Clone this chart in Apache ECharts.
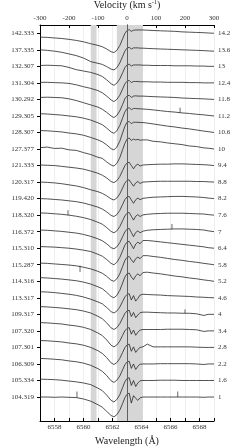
<!DOCTYPE html>
<html><head><meta charset="utf-8">
<script src="https://cdn.jsdelivr.net/npm/echarts@6/dist/echarts.min.js"></script>
<style>html,body{margin:0;padding:0;background:#fff;overflow:hidden}#c{width:240px;height:448px}</style>
</head><body><div id="c"></div>
<script>
// Wavelength sample points (Å)
const wavelengths = [6557.0,6557.5,6558.0,6558.5,6559.0,6559.5,6560.0,6560.5,6561.0,6561.3,6561.6,6561.9,6562.1,6562.3,6562.5,6562.7,6562.85,6563.0,6563.15,6563.3,6563.45,6563.6,6563.75,6563.9,6564.1,6564.4,6564.8,6565.3,6565.8,6566.3,6566.8,6567.3,6567.8,6568.3,6568.6,6569.0];
// Epoch labels (left axis), bottom to top
const dateLabels = ['104.319','105.334','106.309','107.301','107.320','109.317','113.317','114.316','115.287','115.310','116.372','118.320','119.420','120.317','121.333','127.377','128.307','129.305','130.292','131.304','132.307','137.335','142.333'];
// Relative-flux tick values (right axis), bottom to top
const fluxTicks = [1,1.6,2.2,2.8,3.4,4,4.6,5.2,5.8,6.4,7,7.6,8.2,8.8,9.4,10,10.6,11.2,11.8,12.4,13,13.6,14.2];
// Vertical offsets applied to each spectrum, bottom to top
const offsets = [0,0.6,1.2,1.8,2.4,3.0,3.6,4.2,4.8,5.4,6.0,6.6,7.2,7.8,8.4,9.0,9.6,10.2,10.8,11.4,12.0,12.6,13.2];
// Velocity axis range and shaded bands (km/s)
const velocityRange = [-300, 300];
const bands = [[-125, -105], [-35, 55]];
const restVelocity = 0;

// Normalised spectra
const s104_319 = [1.00,1.00,.99,1.00,.99,.98,.93,.85,.72,.63,.48,.33,.28,.36,.52,.77,.97,1.10,1.14,.78,1.05,.95,.88,.97,1.00,1.00,1.00,1.00,1.00,1.00,1.00,1.00,1.00,.99,1.00,1.00];
const s105_334 = [1.05,1.04,1.03,1.01,.98,.95,.91,.85,.72,.63,.47,.28,.22,.31,.48,.75,.95,1.07,1.10,.82,1.00,.78,.91,.99,1.00,1.00,1.00,1.01,1.01,1.01,1.00,1.00,1.00,1.00,1.00,1.00];
const s106_309 = [1.20,1.19,1.17,1.15,1.11,1.08,1.03,.95,.83,.73,.58,.39,.33,.41,.56,.79,.97,1.07,1.10,.84,1.00,.80,.92,.99,1.00,1.00,1.00,1.01,1.01,1.01,1.01,1.01,1.00,.98,1.00,1.00];
const s107_301 = [1.25,1.24,1.22,1.20,1.16,1.13,1.08,1.00,.88,.78,.63,.44,.38,.45,.60,.82,.99,1.09,1.12,.86,1.02,.82,.93,1.00,1.02,1.12,1.02,1.02,1.02,1.02,1.02,1.02,1.01,1.00,1.00,1.00];
const s107_320 = [1.30,1.29,1.27,1.25,1.21,1.18,1.13,1.05,.92,.83,.67,.48,.42,.49,.63,.84,1.00,1.09,1.12,.88,1.03,.84,.95,1.03,1.05,1.05,1.05,1.05,1.06,1.06,1.06,1.05,1.04,.98,1.00,1.00];
const s109_317 = [1.28,1.27,1.25,1.23,1.20,1.17,1.12,1.05,.93,.84,.69,.51,.45,.52,.66,.87,1.03,1.12,1.15,.92,1.07,.88,.98,1.06,1.08,1.08,1.07,1.06,1.05,1.05,1.04,1.04,1.02,.96,1.00,1.00];
const s113_317 = [1.22,1.21,1.19,1.16,1.13,1.09,1.03,.95,.85,.78,.65,.50,.45,.52,.66,.87,1.03,1.12,1.15,.92,1.08,.88,.98,1.10,1.13,1.12,1.11,1.10,1.08,1.07,1.06,1.05,1.03,1.02,1.01,1.00];
const s114_316 = [1.13,1.12,1.10,1.08,1.05,1.02,.97,.90,.80,.73,.60,.45,.40,.49,.67,.94,1.15,1.27,1.30,1.16,1.06,1.20,1.27,1.20,1.32,1.33,1.30,1.27,1.23,1.19,1.16,1.12,1.09,1.05,1.03,1.00];
const s115_287 = [1.06,1.05,1.03,1.01,.99,.96,.91,.85,.76,.69,.58,.44,.40,.49,.67,.94,1.15,1.27,1.30,1.18,1.08,1.22,1.28,1.22,1.33,1.33,1.30,1.27,1.23,1.19,1.16,1.12,1.09,1.05,1.03,1.00];
const s115_310 = [1.06,1.05,1.04,1.02,1.00,.97,.93,.88,.78,.71,.59,.45,.40,.49,.66,.91,1.11,1.22,1.25,1.12,.98,1.15,1.22,1.16,1.28,1.28,1.26,1.23,1.20,1.17,1.14,1.11,1.08,1.05,1.02,1.00];
const s116_372 = [1.06,1.05,1.03,1.01,.98,.95,.90,.83,.74,.67,.56,.42,.38,.45,.60,.82,.99,1.09,1.12,.97,.82,.97,1.03,.96,1.02,1.05,1.07,1.08,1.09,1.10,1.10,1.09,1.08,1.06,1.03,1.00];
const s118_320 = [1.08,1.07,1.05,1.03,1.00,.96,.91,.84,.74,.67,.55,.41,.36,.43,.58,.80,.97,1.07,1.10,.96,.82,.96,1.02,.95,1.01,1.03,1.05,1.06,1.07,1.07,1.07,1.06,1.05,1.04,1.02,1.00];
const s119_420 = [1.00,.99,.97,.95,.92,.89,.84,.77,.69,.62,.52,.39,.35,.42,.57,.79,.96,1.06,1.08,.95,.83,.96,1.02,.96,1.01,1.03,1.05,1.06,1.07,1.08,1.08,1.07,1.06,1.04,1.02,1.00];
const s120_317 = [1.00,.99,.97,.94,.90,.86,.80,.72,.65,.59,.50,.39,.35,.42,.57,.79,.96,1.06,1.08,.96,.85,.97,1.02,.95,1.00,1.01,1.02,1.03,1.03,1.03,1.03,1.03,1.02,1.02,1.01,1.00];
const s121_333 = [1.02,1.01,1.00,.97,.94,.91,.87,.80,.72,.65,.55,.42,.38,.45,.60,.82,.99,1.09,1.12,1.00,.88,1.00,1.05,.98,1.02,1.03,1.04,1.05,1.05,1.06,1.06,1.05,1.04,1.03,1.02,1.00];
const s127_377 = [1.05,1.07,1.02,1.03,.97,.95,.87,.80,.70,.66,.53,.42,.38,.48,.68,.98,1.20,1.36,1.40,1.31,1.36,1.33,1.35,1.32,1.33,1.33,1.28,1.26,1.22,1.19,1.16,1.11,1.09,1.04,1.03,1.00];
const s128_307 = [1.07,1.06,1.04,1.02,.98,.95,.90,.82,.73,.66,.55,.41,.37,.47,.68,.99,1.22,1.37,1.40,1.32,1.37,1.37,1.37,1.36,1.36,1.34,1.31,1.27,1.23,1.20,1.16,1.13,1.09,1.05,1.03,1.00];
const s129_305 = [1.08,1.07,1.05,1.03,1.00,.97,.92,.85,.75,.68,.56,.42,.37,.46,.65,.93,1.14,1.27,1.30,1.23,1.27,1.27,1.26,1.26,1.25,1.24,1.22,1.19,1.16,1.14,1.11,1.09,1.06,1.04,1.02,1.00];
const s130_292 = [1.07,1.08,1.07,1.06,1.02,.96,.88,.80,.72,.64,.53,.40,.34,.42,.58,.82,1.02,1.12,1.15,1.07,1.12,1.13,1.12,1.12,1.12,1.11,1.10,1.09,1.08,1.07,1.05,1.04,1.03,1.02,1.01,1.00];
const s131_304 = [1.02,1.02,1.01,1.00,.98,.93,.86,.80,.72,.64,.52,.38,.32,.40,.55,.78,.96,1.06,1.09,1.01,1.05,1.05,1.05,1.04,1.04,1.04,1.03,1.03,1.02,1.02,1.02,1.01,1.01,1.00,1.00,1.00];
const s132_307 = [1.03,1.04,1.03,1.02,.96,.88,.83,.78,.70,.63,.51,.37,.31,.39,.54,.77,.95,1.05,1.08,1.01,1.05,1.05,1.05,1.05,1.04,1.04,1.03,1.03,1.03,1.02,1.02,1.02,1.01,1.01,1.00,1.00];
const s137_335 = [1.00,.98,.95,.91,.85,.79,.70,.57,.51,.47,.39,.30,.27,.35,.52,.76,.95,1.06,1.09,1.03,1.07,1.07,1.07,1.06,1.06,1.05,1.04,1.03,1.02,1.01,1.00,.99,.98,.97,.96,.95];
const s142_333 = [.86,.85,.83,.81,.78,.74,.69,.62,.56,.51,.43,.33,.30,.38,.55,.80,.99,1.10,1.13,1.07,1.11,1.12,1.12,1.12,1.12,1.11,1.10,1.09,1.08,1.07,1.05,1.04,1.03,1.02,1.01,1.00];

const spectra = [s104_319,s105_334,s106_309,s107_301,s107_320,s109_317,s113_317,s114_316,s115_287,s115_310,s116_372,s118_320,s119_420,s120_317,s121_333,s127_377,s128_307,s129_305,s130_292,s131_304,s132_307,s137_335,s142_333];

// Narrow spikes: [spectrum index, wavelength, base flux, tip flux]
const spikes = [[17,6566.66,1.12,1.30],[11,6558.93,1.00,1.18],[10,6566.1,1.09,1.28],[8,6559.76,0.97,0.74],[5,6567.0,1.04,1.18],[0,6559.55,0.98,1.20],[0,6566.5,1.00,1.20]];

const FONT = 'Liberation Serif';
const series = [];
series.push({
  type:'line', xAxisIndex:1, yAxisIndex:0, z:1, silent:true,
  data:[[velocityRange[0], 0.5]], showSymbol:false, lineStyle:{opacity:0},
  markArea:{silent:true, itemStyle:{color:'#d6d6d6'}, data: bands.map(b=>[{xAxis:b[0]},{xAxis:b[1]}])}
});
spectra.forEach((f,i)=>{
  series.push({
    type:'line', xAxisIndex:0, yAxisIndex:0, z:3, silent:true, showSymbol:false, animation:false,
    data: wavelengths.map((w,k)=>[w, +(f[k]+offsets[i]).toFixed(3)]),
    lineStyle:{color:'#262626', width:0.8}
  });
});
spikes.forEach(s=>{
  series.push({
    type:'line', xAxisIndex:0, yAxisIndex:0, z:3, silent:true, showSymbol:false, animation:false,
    data:[[s[1], s[2]+offsets[s[0]]],[s[1], s[3]+offsets[s[0]]]],
    lineStyle:{color:'#262626', width:0.7}
  });
});
series.push({
  type:'line', xAxisIndex:1, yAxisIndex:0, z:5, silent:true,
  data:[[velocityRange[0], 0.5]], showSymbol:false, lineStyle:{opacity:0},
  markLine:{silent:true, symbol:'none', label:{show:false}, lineStyle:{color:'#e8261c', width:1, type:'solid'}, data:[{xAxis:restVelocity}]}
});

const lbl = {fontFamily:FONT, fontSize:7, color:'#333'};
const chart = echarts.init(document.getElementById('c'), null, {renderer:'canvas'});
chart.setOption({
  animation:false,
  backgroundColor:'#fff',
  grid:{left:40, right:26, top:25, bottom:27, containLabel:false, outerBoundsMode:'none'},
  xAxis:[
    {type:'value', position:'bottom', min:6557, max:6569, interval:1,
     axisLine:{show:true, lineStyle:{color:'#000', width:1}},
     axisTick:{show:true, inside:true, length:3, lineStyle:{color:'#000'}},
     axisLabel:Object.assign({margin:3, formatter:v=> (v%2===0? String(v):'')}, lbl),
     splitLine:{show:true, lineStyle:{color:'#e2e2e2', width:0.6}},
     name:'Wavelength (Å)', nameLocation:'middle', nameGap:15,
     nameTextStyle:{fontFamily:FONT, fontSize:10, color:'#222'}},
    {type:'value', position:'top', min:velocityRange[0], max:velocityRange[1], interval:100,
     axisLine:{show:true, lineStyle:{color:'#000', width:1}},
     axisTick:{show:true, inside:true, length:3, lineStyle:{color:'#000'}},
     axisLabel:Object.assign({margin:3}, lbl),
     splitLine:{show:false},
     name:'Velocity (km s{sup|-1})', nameLocation:'middle', nameGap:13,
     nameTextStyle:{fontFamily:FONT, fontSize:10, color:'#222', rich:{sup:{fontFamily:FONT, fontSize:6, verticalAlign:'top', padding:[0,0,6,0], color:'#222'}}}}
  ],
  yAxis:[
    {type:'value', position:'right', min:0.13, max:14.5,
     axisLine:{show:true, lineStyle:{color:'#000', width:1}},
     axisTick:{show:true, length:3, customValues:fluxTicks, lineStyle:{color:'#000'}},
     axisLabel:Object.assign({margin:4, customValues:fluxTicks, formatter:v=>String(+v.toFixed(1))}, lbl),
     splitLine:{show:false},
     name:'Relative Flux', nameLocation:'middle', nameGap:16, nameRotate:-90,
     nameTextStyle:{fontFamily:FONT, fontSize:10, color:'#222'}},
    {type:'value', position:'left', min:0.13, max:14.5,
     axisLine:{show:true, lineStyle:{color:'#000', width:1}},
     axisTick:{show:true, length:3, customValues:fluxTicks, lineStyle:{color:'#000'}},
     axisLabel:Object.assign({margin:6, customValues:fluxTicks, formatter:v=>{const i=fluxTicks.findIndex(t=>Math.abs(t-v)<1e-6); return i>=0?dateLabels[i]:'';}}, lbl),
     splitLine:{show:false}}
  ],
  series:series
});
</script></body></html>
